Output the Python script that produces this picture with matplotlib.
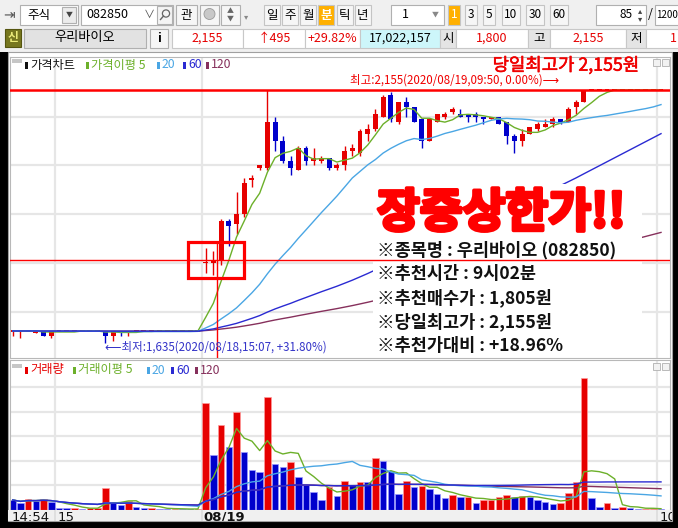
import numpy as np
import pandas as pd
import matplotlib
matplotlib.use("Agg")
import matplotlib.pyplot as plt
import matplotlib.patheffects as pe
from matplotlib.patches import Rectangle, Circle
from matplotlib.transforms import Affine2D

plt.rcParams['font.family'] = ['Noto Sans CJK KR', 'DejaVu Sans']
plt.rcParams['axes.unicode_minus'] = False

# ---------------- 1-minute bars, 08/18 14:54 ~ 08/19 10:00 ----------------
opens = [1660, 1660, 1660, 1655, 1660, 1650, 1660, 1660, 1660, 1660, 1660, 1660,
         1660, 1650, 1660, 1655, 1660, 1660, 1660, 1660, 1660, 1660, 1660, 1660, 1660,
         1800, 1800, 1805, 1885, 1880, 1900, 1970, 1995, 1995, 2090,
         2050, 2010, 1990, 2035, 2010, 2010, 2015, 1995, 2000, 2030,
         2025, 2065, 2075, 2100, 2145, 2090, 2130, 2120, 2095, 2050,
         2090, 2100, 2110, 2105, 2105, 2105, 2100, 2095, 2100, 2090,
         2060, 2050, 2065, 2075, 2080, 2085, 2095, 2090, 2120, 2130,
         2155, 2155, 2155, 2155, 2155, 2155, 2155, 2155, 2155, 2155]
highs = [1660] * 25 + [
         1830, 1825, 1890, 1890, 1945, 1975, 1980, 2000, 2155, 2100,
         2060, 2020, 2040, 2040, 2035, 2020, 2015, 2005, 2040, 2045,
         2075, 2085, 2115, 2145, 2150, 2130, 2140, 2120, 2095, 2095,
         2105, 2110, 2120, 2115, 2105, 2110, 2100, 2100, 2100, 2090,
         2065, 2075, 2080, 2090, 2095, 2100, 2095, 2120, 2135, 2155,
         2155, 2155, 2155, 2155, 2155, 2155, 2155, 2155, 2155, 2155]
lows = [1650, 1645, 1660, 1655, 1650, 1645, 1660, 1660, 1660, 1660, 1660, 1660,
        1635, 1640, 1650, 1650, 1660, 1660, 1660, 1660, 1660, 1660, 1660, 1660, 1660,
        1780, 1775, 1795, 1835, 1860, 1895, 1955, 1990, 1990, 2030,
        2005, 1980, 1990, 2000, 2000, 2005, 1990, 1990, 1990, 2020,
        2020, 2050, 2070, 2100, 2090, 2085, 2100, 2090, 2035, 2050,
        2090, 2095, 2105, 2100, 2090, 2090, 2085, 2095, 2085, 2045,
        2025, 2040, 2065, 2070, 2080, 2080, 2085, 2090, 2105, 2130,
        2155, 2155, 2155, 2155, 2155, 2155, 2155, 2155, 2155, 2155]
closes = [1660, 1660, 1660, 1660, 1650, 1660, 1660, 1660, 1660, 1660, 1660, 1660,
          1650, 1660, 1655, 1660, 1660, 1660, 1660, 1660, 1660, 1660, 1660, 1660, 1660,
          1800, 1805, 1885, 1875, 1900, 1965, 1975, 2000, 2090, 2050,
          2010, 1995, 2035, 2010, 2015, 2015, 1995, 2000, 2030, 2035,
          2070, 2075, 2105, 2140, 2095, 2130, 2120, 2090, 2050, 2095,
          2105, 2105, 2115, 2100, 2100, 2100, 2095, 2100, 2085, 2060,
          2050, 2065, 2080, 2085, 2085, 2095, 2090, 2115, 2130, 2155,
          2155, 2155, 2155, 2155, 2155, 2155, 2155, 2155, 2155, 2155]
# traded volume per bar, thousand shares
volumes = [102, 74, 112, 95, 113, 79, 20, 17, 20, 15, 20, 20, 228, 68, 51, 95,
           28, 17, 20, 13, 10, 10, 9, 8, 15,
           1091, 561, 867, 643, 1000, 592, 408, 388, 1153, 469,
           439, 490, 337, 255, 184, 102, 235, 143, 296, 255,
           289, 283, 533, 503, 398, 166, 296, 238, 248, 214,
           160, 119, 153, 130, 131, 74, 99, 100, 130, 153,
           133, 140, 136, 102, 85, 64, 74, 176, 286, 1343,
           119, 31, 74, 17, 31, 20, 10, 13, 13, 10]

time_labels = ['14:54', '15', '08/19', '10']
ma_periods = [5, 20, 60, 120]
prev_close = 1660          # 08/18 upper-limit price held before this window
buy_price = 1805           # recommended buy price
low_info = '(2020/08/18,15:07, +31.80%)'
high_info = '(2020/08/19,09:50, 0.00%)'
info_lines = ['※종목명 : 우리바이오 (082850)', '※추천시간 : 9시02분',
              '※추천매수가 : 1,805원', '※당일최고가 : 2,155원', '※추천가대비 : +18.96%']

# ---------------- styling ----------------
W, H = 678, 528
RED, BLUE = '#e60000', '#0000cc'
MA_COL = {5: '#6cb02a', 20: '#4aa6e4', 60: '#2a2ad2', 120: '#86305c'}
GRID = '#e6e6e6'
EDGE = '#b8b8b8'

fig = plt.figure(figsize=(W / 100, H / 100), dpi=100)
fig.patch.set_facecolor('black')
PX = Affine2D().scale(1 / W, -1 / H).translate(0, 1) + fig.transFigure


def px_axes(x0, y0, x1, y1):
    return fig.add_axes([x0 / W, 1 - y1 / H, (x1 - x0) / W, (y1 - y0) / H])


# ---------------- window chrome / toolbar ----------------
ui = px_axes(0, 0, W, H)
ui.set_xlim(0, W)
ui.set_ylim(H, 0)
ui.axis('off')
ui.add_patch(Rectangle((0, 0), W, 52, fc='#f0f0f0', ec='none'))
ui.add_patch(Rectangle((8, 52), 664, 469, fc='white', ec='#a0a0a0', lw=0.8))


def box(x0, y0, x1, y1, fc='white', ec='#b0b0b0', lw=0.8):
    ui.add_patch(Rectangle((x0, y0), x1 - x0, y1 - y0, fc=fc, ec=ec, lw=lw))


def label(x, y, s, size=9, color='black', ha='center', weight='normal'):
    ui.text(x, y, s, fontsize=size, color=color, ha=ha, va='center', fontweight=weight)


# row 1
label(9, 15, '⇥', size=10, color='#555555')
box(20, 5, 78, 25)
label(27, 15, '주식', ha='left')
box(62, 7, 76, 23, fc='#ececec')
label(69, 15, '▼', size=5, color='#444')
box(81, 5, 173, 25)
label(86, 15, '082850', ha='left')
label(149, 15, '∨', size=8, color='#555')
box(157, 6, 172, 24, fc='#f4f4f4')
ui.add_patch(Circle((166, 13.5), 3.6, fc='none', ec='#666', lw=0.9))
ui.plot([163.5, 160.5], [16, 19.5], color='#666', lw=1.0)
box(176, 5, 197, 25, fc='#f6f6f6')
label(186.5, 15, '관')
box(200, 5, 219, 25, fc='#f6f6f6')
ui.add_patch(Circle((209.5, 14), 5.5, fc='#c8c8c8', ec='#999', lw=0.6))
box(221, 5, 240, 25, fc='#f6f6f6')
label(230.5, 11, '▲', size=5, color='#666')
label(230.5, 19, '▼', size=5, color='#666')
label(246, 17, '▾', size=6, color='#888')
for x, s in zip([272, 290, 308, 326, 345, 363], ['일', '주', '월', '분', '틱', '년']):
    on = s == '분'
    box(x - 8, 5, x + 8, 25, fc='#ffb000' if on else '#f6f6f6', ec='#c4c4c4')
    label(x, 15, s, color='white' if on else 'black', weight='bold' if on else 'normal')
box(391, 5, 444, 25)
label(402, 15, '1', ha='left')
label(435, 15, '▼', size=5, color='#888')
for x, s in zip([454, 471, 489, 511, 535, 559], ['1', '3', '5', '10', '30', '60']):
    on = s == '1'
    half = 6 if len(s) == 1 else 9
    box(x - half, 5, x + half, 25, fc='#ffb000' if on else '#f6f6f6', ec='#c4c4c4')
    label(x, 15, s, color='white' if on else 'black', size=8.5)
box(596, 5, 646, 25)
label(633, 15, '85', ha='right', size=8.5)
label(640.5, 11, '▴', size=6, color='#444')
label(640.5, 19, '▾', size=6, color='#444')
label(650, 15, '/', size=9)
box(655, 5, 690, 25)
label(656.5, 15, '1200', ha='left', size=7.0)

# row 2
box(5, 29, 21, 47, fc='#77771f', ec='#555510')
label(13, 38, '신', size=8.5, color='#ecec7a', weight='bold')
box(24, 29, 146, 48, fc='#e2e2e2')
label(85, 38, '우리바이오', size=9.5)
box(150, 29, 168, 48, fc='#f6f6f6')
label(159, 38, 'i', size=9, weight='bold')
cells = [(172, 243, '2,155', RED, 'white'), (243, 305, '↑495', RED, 'white'),
         (305, 360, '+29.82%', RED, 'white'), (360, 440, '17,022,157', 'black', '#cdf6fa'),
         (440, 456, '시', 'black', '#e4e4e4'), (456, 528, '1,800', RED, 'white'),
         (528, 550, '고', 'black', '#e4e4e4'), (550, 626, '2,155', RED, 'white'),
         (626, 646, '저', 'black', '#e4e4e4'), (646, 690, '', RED, 'white')]
for x0, x1, s, c, fc in cells:
    box(x0, 29, x1, 48, fc=fc, ec='#c8c8c8')
    label((x0 + x1) / 2, 38.5, s, color=c, size=9)
label(670, 38.5, '1', color=RED, size=9, ha='left')

# ---------------- price panel ----------------
def price_at(y):
    return 2155 - (y - 90) * 2.054


def bar_at(x):
    return (x - 12.7) / 7.718


idx = np.arange(len(closes))
o, hi, lo, c = (np.array(a, dtype=float) for a in (opens, highs, lows, closes))

ax = px_axes(10, 57, 670, 358)
ax.set_xlim(bar_at(10), bar_at(670))
ax.set_ylim(price_at(358), price_at(57))
ax.set_yticks([1700, 1800, 1900, 2000, 2100])
ax.set_xticks([])
ax.tick_params(left=False, labelleft=False)
ax.grid(axis='y', color=GRID, lw=1.6)
ax.set_axisbelow(True)
for s in ax.spines.values():
    s.set_color(EDGE)
    s.set_linewidth(0.8)
grid_bars = [5.5, 24.5, 83.5]
for g in grid_bars:
    ax.axvline(g, color=GRID, lw=1.6, zorder=0.5)

col = np.where(c >= o, RED, BLUE)
ax.vlines(idx, lo, hi, colors=col, lw=1.0, zorder=2)
body = np.abs(c - o)
mid = (o + c) / 2
bh = np.maximum(body, 2.2)
ax.bar(idx, bh, bottom=mid - bh / 2, width=0.64, color=col, lw=0, zorder=2)

ext = pd.Series([prev_close] * (max(ma_periods) - 1) + closes, dtype=float)
for n in [120, 5, 20, 60]:
    ma = ext.rolling(n).mean().iloc[max(ma_periods) - 1:].to_numpy()
    ax.plot(idx, ma, color=MA_COL[n], lw=1.0, zorder=3)

day_high = int(max(highs[25:]))
ax.axhline(day_high, color='#ff0000', lw=1.8, zorder=6)
ax.axhline(buy_price, color='#ff0000', lw=1.0, zorder=6)
ax.add_patch(Rectangle((22.7, 1769), 7.27, 74, fill=False, ec='#ff0000', lw=2.3, zorder=5))
ax.vlines(26.45, price_at(358), 1843, color='#ff0000', lw=1.0, zorder=5)


# legend
def legend_row(axis, items, y):
    for x, s, cc in items:
        axis.add_patch(Rectangle((x, y - 3.5), 2.6, 7.5, fc=cc, ec='none', transform=PX,
                                 clip_on=False, zorder=7))
        axis.text(x + 5, y, s, color=cc, fontsize=8.8, va='center', ha='left',
                  transform=PX, zorder=7)


ax.add_patch(Rectangle((12, 59), 10, 4, fc='#c6c6c6', ec='none', transform=PX, zorder=7))
legend_row(ax, [(25, '가격차트', '#111111'), (86, '가격이평 5', MA_COL[5]),
                (157, '20', MA_COL[20]), (183, '60', MA_COL[60]), (206, '120', MA_COL[120])], 65)
for x in (653, 662):
    ax.add_patch(Rectangle((x, 59), 7, 7, fc='#f2f2f2', ec='#b0b0b0', lw=0.6,
                           transform=PX, zorder=7))

ax.text(566, 65.5, f'당일최고가 {day_high:,}원', color='#f00000', fontsize=12.8,
        ha='center', va='center', transform=PX, zorder=7,
        path_effects=[pe.withStroke(linewidth=0.4, foreground='#f00000')])
ax.text(350, 80.5, f'최고:{day_high:,}{high_info}⟶', color='#f00000', fontsize=8.3,
        ha='left', va='center', transform=PX, zorder=7)
min_low = int(min(lows))
ax.text(105, 347.5, f'⟵최저:{min_low:,}{low_info}', color='#3434c8', fontsize=8.3,
        ha='left', va='center', transform=PX, zorder=7)

# recommendation box
ax.add_patch(Rectangle((373, 184), 269, 172, fc='white', ec='none', transform=PX, zorder=4))
ax.text(377, 213, '장중상한가!!', color='#ff0000', fontsize=33.5, fontweight='black',
        ha='left', va='center', transform=PX, zorder=5,
        path_effects=[pe.withStroke(linewidth=2.6, foreground='#ff0000')])
for k, s in enumerate(info_lines):
    ax.text(377, 250 + k * 23.9, s, color='#111111', fontsize=12.6, fontweight='bold',
            ha='left', va='center', transform=PX, zorder=5)

# ---------------- volume panel ----------------
v = np.array(volumes, dtype=float)
prev_v = np.r_[np.inf, v[:-1]]
vcol = np.where(v >= prev_v, RED, BLUE)
vedge = np.where(v >= prev_v, '#ff9a9a', '#9a9aff')

vx = px_axes(10, 360, 670, 510)
vx.set_xlim(bar_at(10), bar_at(670))
vx.set_ylim(0, 1530)
vx.set_yticks([250, 500, 750, 1000, 1250])
vx.set_xticks([])
vx.tick_params(left=False, labelleft=False)
vx.grid(axis='y', color=GRID, lw=1.6)
vx.set_axisbelow(True)
for s in vx.spines.values():
    s.set_color(EDGE)
    s.set_linewidth(0.8)
for g in grid_bars:
    vx.axvline(g, color=GRID, lw=1.6, zorder=0.5)
vx.bar(idx, v, width=0.84, color=vcol, edgecolor=vedge, lw=0.5, zorder=2)
vs = pd.Series(v)
for n in [120, 5, 20, 60]:
    vx.plot(idx, vs.rolling(n, min_periods=1).mean(), color=MA_COL[n], lw=1.0, zorder=3)

vx.add_patch(Rectangle((12, 364), 10, 4, fc='#c6c6c6', ec='none', transform=PX, zorder=7))
legend_row(vx, [(25, '거래량', RED), (73, '거래이평 5', MA_COL[5]),
                (147, '20', MA_COL[20]), (171, '60', MA_COL[60]), (195, '120', MA_COL[120])], 370)
for x in (653, 662):
    vx.add_patch(Rectangle((x, 363), 7, 7, fc='#f2f2f2', ec='#b0b0b0', lw=0.6,
                           transform=PX, zorder=7))

# ---------------- time axis ----------------
xs = px_axes(8, 510, 672, 521)
xs.set_xlim(bar_at(8), bar_at(672))
xs.set_ylim(0, 1)
xs.axis('off')
xs.add_patch(Rectangle((0, 0), 1, 1, transform=xs.transAxes, fc='#f0f0f0', ec='none'))
for g in grid_bars:
    xs.axvline(g, color='#dcdcdc', lw=1.2)
for pos, s in zip([-0.2, 5.75, 24.75, 83.75], time_labels):
    xs.text(pos, 0.92, s, fontsize=9.5, ha='left', va='top', color='#111',
            fontweight='bold' if '/' in s else 'normal', clip_on=True,
            family=['DejaVu Sans'])

fig.savefig('out.png', dpi=100)
